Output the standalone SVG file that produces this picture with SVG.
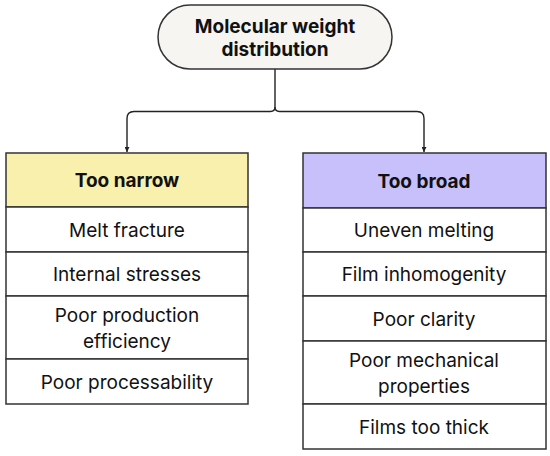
<svg xmlns="http://www.w3.org/2000/svg" width="550" height="456" viewBox="0 0 550 456">
<defs>
<marker id="arr" viewBox="0 0 10 10" refX="10" refY="5" markerWidth="5" markerHeight="5" orient="auto" markerUnits="userSpaceOnUse">
<path d="M0,0 L10,5 L0,10 z" fill="#222"/>
</marker>
</defs>
<style>
.bx{stroke:#333;stroke-width:1.5;}
.conn{fill:none;stroke:#222;stroke-width:1.4;}
.t{font-family:"Inter","DejaVu Sans",sans-serif;font-size:19px;fill:#111;text-anchor:middle;}
.b{font-weight:bold;}
</style>
<rect width="550" height="456" fill="#fff"/>
<g id="connectors">
<path class="conn" d="M275,69 V107 Q275,111.5 270.5,111.5 H134 Q127,111.5 127,118.5 V152" marker-end="url(#arr)"/>
<path class="conn" d="M275,107 Q275,111.5 279.5,111.5 H417 Q424,111.5 424,118.5 V152" marker-end="url(#arr)"/>
</g>
<g id="root">
<rect class="bx" x="158" y="5" width="234" height="64" rx="32" fill="#f6f5f2"/>
<text class="t b" x="275" y="33" font-size="20">Molecular weight</text>
<text class="t b" x="275" y="56" font-size="20">distribution</text>
</g>
<g id="narrow">
<rect class="bx" x="6" y="153" width="242" height="54" fill="#f8f0ac"/>
<text class="t b" x="127" y="187">Too narrow</text>
<rect class="bx" x="6" y="207" width="242" height="45" fill="#fff"/>
<text class="t" x="127" y="236.5">Melt fracture</text>
<rect class="bx" x="6" y="252" width="242" height="44" fill="#fff"/>
<text class="t" x="127" y="281">Internal stresses</text>
<rect class="bx" x="6" y="296" width="242" height="63" fill="#fff"/>
<text class="t" x="127" y="322">Poor production</text>
<text class="t" x="127" y="348">efficiency</text>
<rect class="bx" x="6" y="359" width="242" height="45" fill="#fff"/>
<text class="t" x="127" y="388.5">Poor processability</text>
</g>
<g id="broad">
<rect class="bx" x="303" y="153" width="243" height="55" fill="#c8c0fa"/>
<text class="t b" x="424" y="187.5">Too broad</text>
<rect class="bx" x="303" y="208" width="243" height="44" fill="#fff"/>
<text class="t" x="424" y="237">Uneven melting</text>
<rect class="bx" x="303" y="252" width="243" height="44" fill="#fff"/>
<text class="t" x="424" y="281">Film inhomogenity</text>
<rect class="bx" x="303" y="296" width="243" height="45" fill="#fff"/>
<text class="t" x="424" y="325.5">Poor clarity</text>
<rect class="bx" x="303" y="341" width="243" height="63" fill="#fff"/>
<text class="t" x="424" y="367">Poor mechanical</text>
<text class="t" x="424" y="393">properties</text>
<rect class="bx" x="303" y="404" width="243" height="45" fill="#fff"/>
<text class="t" x="424" y="433.5">Films too thick</text>
</g>
</svg>
